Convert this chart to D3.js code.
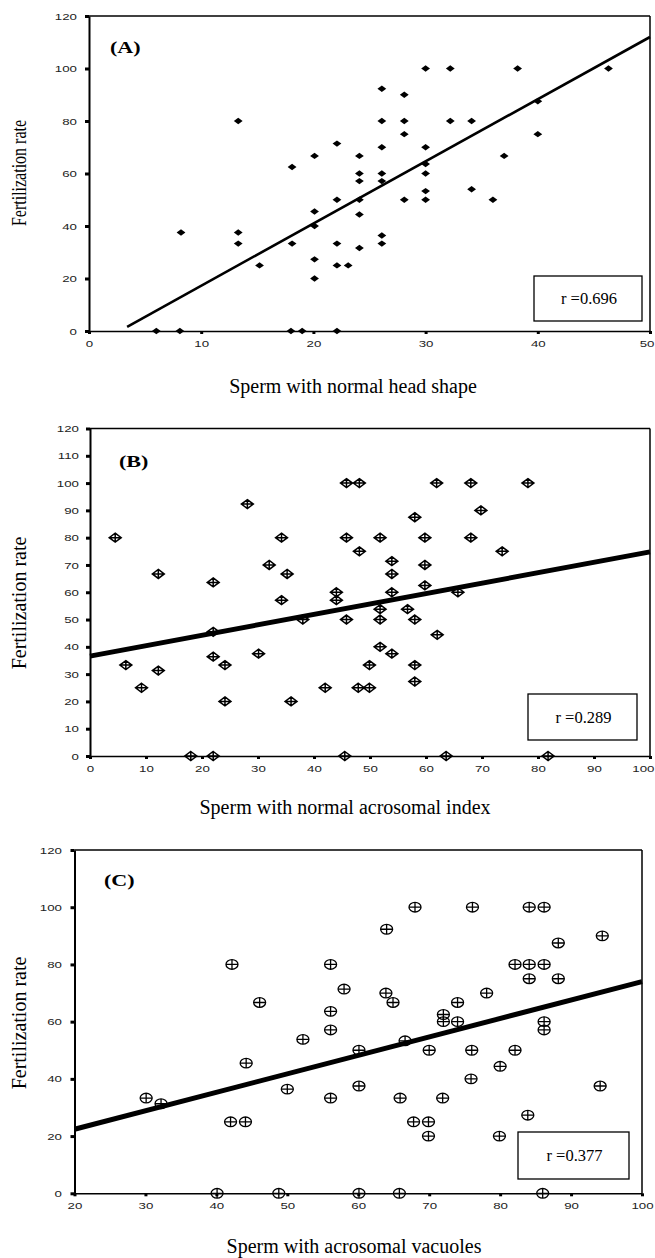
<!DOCTYPE html>
<html><head><meta charset="utf-8">
<script src="https://cdn.jsdelivr.net/npm/d3@7"></script>
<style>body{margin:0;background:#fff}svg{display:block}</style>
</head><body>
<svg id="chart" width="655" height="1258"></svg>
<script>
// ---------- DATA ----------
// Panel A: sperm with normal head shape vs fertilization rate
const headShapeX = [8.2,13.3,13.3,13.3,15.2,18.1,18.1,20.1,20.1,20.1,20.1,20.1,6.0,8.1,18.0,19.0,
  22.1,22.1,22.1,22.1,23.1,22.1,24.1,24.1,24.1,24.1,24.1,24.1,26.1,26.1,26.1,26.1,26.1,26.1,26.1,
  28.1,28.1,28.1,28.1,30,30,30,30,30,30,32.2,32.2,34.1,34.1,36,37,38.2,40,40,46.3];
const headShapeY = [37.5,80,37.5,33.3,25,62.5,33.3,66.7,45.5,40,27.3,20,0,0,0,0,
  71.4,50,33.3,25,25,0,66.7,60,57.1,50,44.4,31.6,92.3,80,70,60,57.1,36.4,33.3,
  90,80,75,50,100,70,63.6,60,53.3,50,100,80,80,54,50,66.7,100,87.5,75,100];
const fitAX = [3.4, 50];
const fitAY = [1.6, 112];
const rA = "r =0.696";

// Panel B: sperm with normal acrosomal index
const acroIndexX = [4.5,6.4,9.2,12.2,12.2,18,22,22,22,22,24.1,24.1,28.1,30.1,32,34.2,34.2,35.2,35.9,38,42,
  45.8,48.1,61.9,68,78.2,69.8,58,45.8,51.8,59.8,68,48.1,73.6,53.9,53.9,59.8,59.8,44,44,53.9,65.7,
  51.8,56.7,45.8,51.8,58,62,51.8,53.9,49.9,58,58,47.9,49.9,45.5,63.6,81.8];
const acroIndexY = [80,33.3,25,66.7,31.3,0,0,63.6,45.5,36.4,33.3,20,92.3,37.5,70,80,57.1,66.7,20,50,25,
  100,100,100,100,100,90,87.5,80,80,80,80,75,75,71.4,66.7,70,62.5,60,57.1,60,60,
  53.8,53.8,50,50,50,44.4,40,37.5,33.3,33.3,27.3,25,25,0,0,0];
const fitBX = [0, 100];
const fitBY = [36.6, 74.8];
const rB = "r =0.289";

// Panel C: sperm with acrosomal vacuoles
const vacuolesX = [30.1,32.2,42.2,46.1,44.2,52.2,50,42,44.1,40.1,48.8,56.1,56.1,56.1,56.1,
  68,76.1,84.1,86.2,64,94.4,88.2,82.1,84.1,86.2,84.1,88.2,58,63.9,64.9,78.1,74,72,72,74,86.2,86.2,
  66.6,60.1,70,76,82.1,80,75.9,60.1,94.1,65.9,71.9,83.9,67.8,69.9,69.9,79.9,60.1,65.8,86];
const vacuolesY = [33.3,31.3,80,66.7,45.5,53.8,36.4,25,25,0,0,80,63.6,57.1,33.3,
  100,100,100,100,92.3,90,87.5,80,80,80,75,75,71.4,70,66.7,70,66.7,62.5,60,60,60,57.1,
  53.3,50,50,50,50,44.4,40,37.5,37.5,33.3,33.3,27.3,25,25,20,20,0,0,0];
const fitCX = [20, 100];
const fitCY = [22.4, 74];
const rC = "r =0.377";

// Tick values
const ticksAX = [0,10,20,30,40,50];
const ticksAY = [0,20,40,60,80,100,120];
const ticksBX = [0,10,20,30,40,50,60,70,80,90,100];
const ticksBY = [0,10,20,30,40,50,60,70,80,90,100,110,120];
const ticksCX = [20,30,40,50,60,70,80,90,100];
const ticksCY = [0,20,40,60,80,100,120];

const yTitle = "Fertilization rate";
const xTitleA = "Sperm with normal head shape";
const xTitleB = "Sperm with normal acrosomal index";
const xTitleC = "Sperm with acrosomal vacuoles";

// ---------- DRAW ----------
const svg = d3.select("#chart");
const W = +svg.attr("width");
const SERIF = "'Liberation Serif','Times New Roman',serif";
const SANS = "'Liberation Sans',Arial,sans-serif";

const markerPaths = {
  filledDiamond: "M0,-3.2L4.4,0L0,3.2L-4.4,0Z",
  crossDiamond: "M0,-4.5L6,0L0,4.5L-6,0Z M-6,0H6 M0,-4.5V4.5"
};

function panel(o) {
  const g = svg.append("g");
  const x = d3.scaleLinear().domain(o.xDomain).range([o.left, o.right]);
  const y = d3.scaleLinear().domain([0, 120]).range([o.bottom, o.top]);

  // frame top & right
  g.append("line").attr("x1", o.left).attr("x2", o.right).attr("y1", o.top).attr("y2", o.top)
    .attr("stroke", "#000").attr("stroke-width", 1.3);
  g.append("line").attr("x1", o.right).attr("x2", o.right).attr("y1", o.top).attr("y2", o.bottom)
    .attr("stroke", "#000").attr("stroke-width", 1.5);

  const sx = 1.4;
  // x axis
  const xa = g.append("g").attr("transform", `translate(0,${o.bottom})`)
    .call(d3.axisBottom(x).tickValues(o.xTicks).tickSize(3).tickSizeOuter(0).tickPadding(6));
  xa.select(".domain").attr("stroke-width", 1.6);
  xa.selectAll(".tick line").attr("stroke-width", 3);
  xa.selectAll("text").attr("font-family", SANS).attr("font-size", 9.5).attr("fill", "#222")
    .attr("transform", `scale(${sx},1)`);
  // keep the last label inside the page edge
  xa.selectAll("text").each(function (d) {
    const t = d3.select(this);
    const right = x(d) + this.getComputedTextLength() * sx / 2;
    if (right > W - 1) {
      t.attr("text-anchor", "end").attr("x", (W - 1 - x(d)) / sx);
    }
  });
  // y axis
  const ya = g.append("g").attr("transform", `translate(${o.left},0)`)
    .call(d3.axisLeft(y).tickValues(o.yTicks).tickSize(4).tickSizeOuter(0));
  ya.select(".domain").attr("stroke-width", 2);
  ya.selectAll(".tick line").attr("stroke-width", 3);
  ya.selectAll("text").attr("font-family", SANS).attr("font-size", 9.5).attr("fill", "#222")
    .attr("x", -o.yGap / sx).attr("transform", `scale(${sx},1)`);

  // fit line
  const fit = d3.zip(o.fitX, o.fitY);
  g.append("path").datum(fit)
    .attr("d", d3.line().x(d => x(d[0])).y(d => y(d[1])))
    .attr("stroke", "#000").attr("stroke-width", o.fitWidth).attr("fill", "none");

  // points
  const pts = d3.zip(o.xs, o.ys);
  const mk = g.append("g").selectAll("g").data(pts).join("g")
    .attr("transform", d => `translate(${x(d[0])},${y(d[1])})`);
  if (o.marker === "crossCircle") {
    mk.append("ellipse").attr("rx", 6).attr("ry", 4.8)
      .attr("fill", "none").attr("stroke", "#000").attr("stroke-width", 1.3);
    mk.append("path").attr("d", "M-6,0H6M0,-4.8V4.8")
      .attr("stroke", "#000").attr("stroke-width", 1.3);
  } else if (o.marker === "crossDiamond") {
    mk.append("path").attr("d", markerPaths.crossDiamond)
      .attr("fill", "none").attr("stroke", "#000").attr("stroke-width", 1.5);
  } else {
    mk.append("path").attr("d", markerPaths.filledDiamond).attr("fill", "#000");
  }

  // panel label
  g.append("text").attr("transform", `translate(${o.labelX},${o.labelY}) scale(1.3,1)`)
    .attr("font-family", SERIF).attr("font-weight", "bold").attr("font-size", 17)
    .text(o.label);

  // r box
  g.append("rect").attr("x", o.box[0]).attr("y", o.box[1])
    .attr("width", o.box[2] - o.box[0]).attr("height", o.box[3] - o.box[1])
    .attr("fill", "#fff").attr("stroke", "#000").attr("stroke-width", 1.3);
  g.append("text").attr("x", (o.box[0] + o.box[2]) / 2 + 1).attr("y", (o.box[1] + o.box[3]) / 2 + 5.5)
    .attr("text-anchor", "middle").attr("font-family", SERIF).attr("font-size", 16.5)
    .text(o.r);

  // axis titles
  g.append("text").attr("x", o.xTitlePos[0]).attr("y", o.xTitlePos[1])
    .attr("text-anchor", "middle").attr("font-family", SERIF).attr("font-size", 20)
    .text(o.xTitle);
  g.append("text")
    .attr("transform", `translate(${o.yTitlePos[0]},${o.yTitlePos[1]}) rotate(-90) scale(${o.yTitleScale},1)`)
    .attr("text-anchor", "middle").attr("font-family", SERIF).attr("font-size", 20)
    .text(yTitle);
}

panel({
  xDomain: [0, 50], left: 89, right: 650, top: 16, bottom: 331,
  xTicks: ticksAX, yTicks: ticksAY, yGap: 12,
  xs: headShapeX, ys: headShapeY, marker: "filledDiamond",
  fitX: fitAX, fitY: fitAY, fitWidth: 2.6,
  label: "(A)", labelX: 110, labelY: 53,
  box: [534, 276, 642, 321], r: rA,
  xTitle: xTitleA, xTitlePos: [353, 393],
  yTitlePos: [26, 173], yTitleScale: 0.8
});
panel({
  xDomain: [0, 100], left: 90, right: 650, top: 428.5, bottom: 756,
  xTicks: ticksBX, yTicks: ticksBY, yGap: 11,
  xs: acroIndexX, ys: acroIndexY, marker: "crossDiamond",
  fitX: fitBX, fitY: fitBY, fitWidth: 5,
  label: "(B)", labelX: 119, labelY: 467,
  box: [528, 694, 637, 740], r: rB,
  xTitle: xTitleB, xTitlePos: [345, 814],
  yTitlePos: [26, 603], yTitleScale: 1
});
panel({
  xDomain: [20, 100], left: 74.5, right: 642, top: 850, bottom: 1193.3,
  xTicks: ticksCX, yTicks: ticksCY, yGap: 12.5,
  xs: vacuolesX, ys: vacuolesY, marker: "crossCircle",
  fitX: fitCX, fitY: fitCY, fitWidth: 5,
  label: "(C)", labelX: 104, labelY: 886,
  box: [518, 1132, 629, 1179], r: rC,
  xTitle: xTitleC, xTitlePos: [354, 1253],
  yTitlePos: [26, 1023], yTitleScale: 1
});
</script>
</body></html>
